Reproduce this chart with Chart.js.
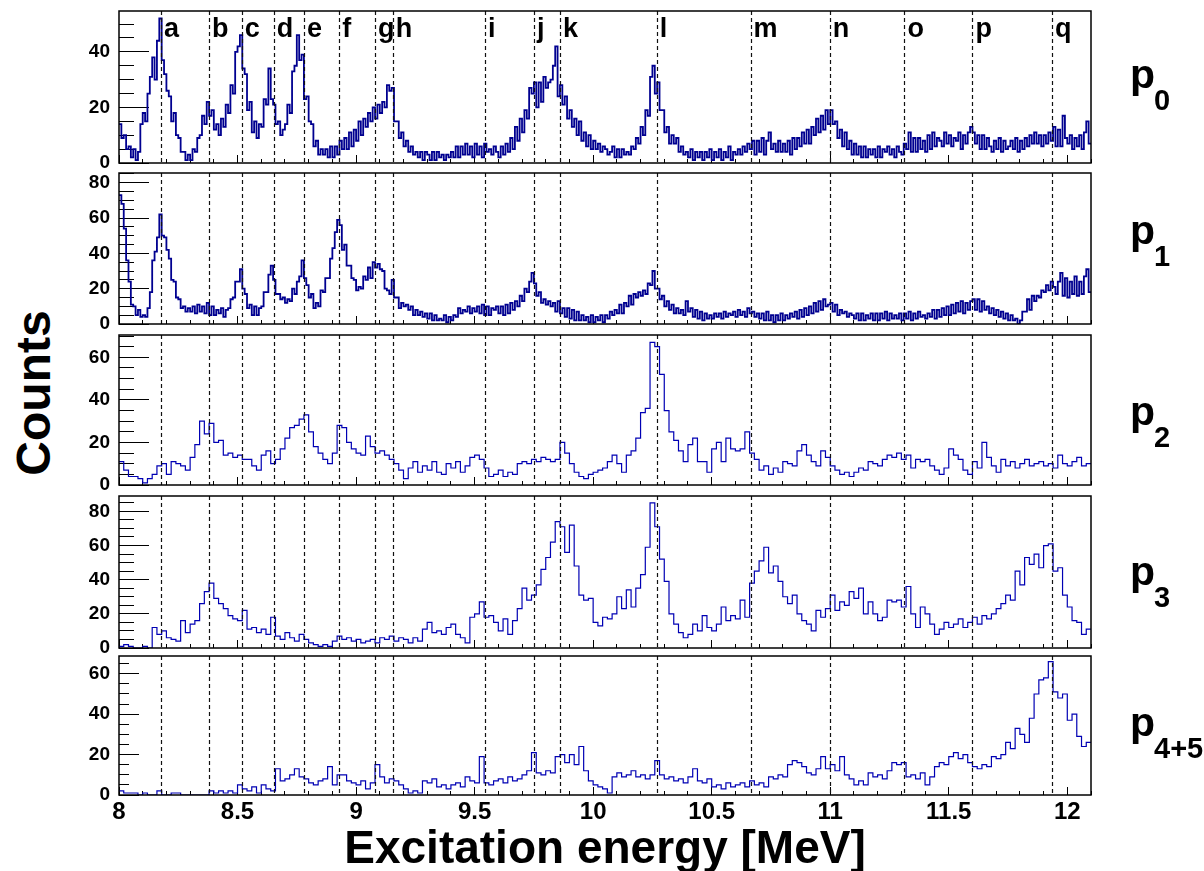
<!DOCTYPE html>
<html>
<head>
<meta charset="utf-8">
<script src="https://cdn.jsdelivr.net/npm/chart.js@4.4.0/dist/chart.umd.min.js"></script>
<style>
  body { margin: 0; background: #fff; width: 1204px; height: 871px; overflow: hidden; position: relative; }
  canvas { position: absolute; left: 0; }
  #ytitle {
    position: absolute; left: -120px; top: 369px; width: 300px; height: 48px;
    line-height: 48px; text-align: center; transform: rotate(-90deg);
    font: bold 48px "Liberation Sans", Arial, sans-serif; color: #000;
  }
</style>
</head>
<body>
<div id="ytitle">Counts</div>
<script>
const energyMin = 8;
const energyMax = 12.1;
const fineBin = 0.01;
const coarseBin = 0.02;

const xTickLabels = [8, 8.5, 9, 9.5, 10, 10.5, 11, 11.5, 12];
const yTickLabels = [0, 20, 40, 60, 80];

const levelLabels = ['a','b','c','d','e','f','g','h','i','j','k','l','m','n','o','p','q'];
const levelEnergies = [8.177, 8.380, 8.518, 8.653, 8.780, 8.929, 9.080, 9.155, 9.544,
                       9.751, 9.860, 10.268, 10.664, 10.998, 11.313, 11.600, 11.935];

const channelNames = ['0', '1', '2', '3', '4+5'];

// p0, 0.01 MeV bins, one row per 0.1 MeV
const p0Counts = [
  14,9,10,5,6,2,5,1,4,14,
  18,15,25,31,38,30,44,52,37,32,
  26,24,15,18,10,9,4,4,1,3,
  1,5,4,9,10,17,14,22,17,19,
  12,14,10,16,13,21,18,28,25,40,
  42,46,34,32,19,22,11,15,9,14,
  13,23,21,34,23,21,14,15,10,12,
  14,21,18,33,35,46,37,39,23,24,
  15,14,6,8,3,5,3,5,2,6,
  2,6,3,8,5,9,5,11,6,12,
  8,15,10,16,13,18,15,20,16,21,
  18,22,20,28,26,27,15,15,9,11,
  6,8,4,6,3,4,2,4,1,4,
  3,1,4,1,4,2,3,1,3,2,
  4,2,6,2,6,3,7,3,6,2,
  7,3,6,2,7,4,5,3,6,4,
  2,6,3,7,4,9,5,13,8,16,
  11,19,16,27,25,29,20,29,22,31,
  27,29,30,35,42,24,28,21,24,16,
  19,13,16,10,15,8,11,6,10,5,
  8,5,7,4,6,5,3,4,6,2,
  5,2,5,3,4,3,6,5,9,7,
  13,10,19,17,31,35,25,29,19,19,
  11,13,7,10,7,9,4,6,3,4,
  2,5,1,4,2,4,1,4,2,5,
  1,4,2,5,1,4,2,6,1,4,
  3,5,3,6,4,7,5,8,3,8,
  4,9,3,8,11,5,7,4,8,4,
  7,4,8,3,9,5,9,6,11,7,
  12,7,13,10,16,11,17,12,19,14,
  19,14,15,9,12,6,11,5,8,3,
  7,3,6,2,6,2,5,3,5,2,
  6,2,5,4,6,3,5,2,6,4,
  3,7,5,11,4,9,4,9,5,8,
  4,10,5,11,6,9,8,6,11,7,
  10,6,9,8,11,5,10,7,11,13,
  11,7,10,5,10,5,9,6,4,8,
  5,9,4,8,5,6,8,5,9,4,
  8,5,9,6,10,7,11,7,10,6,
  10,7,11,8,13,6,12,6,17,9,
  7,10,5,9,6,10,5,11,15,7
];

// p1, 0.01 MeV bins
const p1Counts = [
  73,68,54,36,24,11,10,5,8,4,
  5,4,9,18,36,41,49,62,50,49,
  42,37,25,24,15,14,9,10,7,9,
  7,10,6,11,7,10,6,12,5,10,
  5,8,6,9,4,8,9,14,15,24,
  24,31,20,17,9,11,5,10,5,9,
  10,18,18,28,33,25,17,17,14,15,
  12,14,13,20,17,24,27,36,26,22,
  15,17,9,12,10,19,18,26,26,37,
  43,52,59,56,42,45,33,33,26,25,
  19,21,20,27,25,32,26,35,32,34,
  31,30,20,19,17,25,15,15,9,12,
  10,11,8,10,5,8,5,7,4,6,
  3,6,2,5,2,3,2,5,1,4,
  2,5,4,9,6,8,7,10,6,9,
  7,10,6,11,5,10,5,9,8,10,
  6,10,5,11,6,12,8,13,10,16,
  13,20,18,24,29,23,16,18,12,14,
  11,13,10,12,7,13,6,9,4,9,
  3,8,2,7,2,5,2,4,1,5,
  1,4,2,5,1,5,3,7,5,8,
  6,11,6,12,10,16,11,17,15,18,
  16,19,17,23,22,30,20,20,14,16,
  10,13,8,11,6,9,6,8,5,13,
  7,9,4,8,3,7,2,6,3,5,
  3,6,4,6,3,7,4,6,5,7,
  4,8,5,7,4,9,6,7,4,6,
  3,6,2,7,2,5,1,5,2,6,
  2,5,3,6,4,7,3,8,4,9,
  5,10,6,12,7,13,8,14,10,11,
  12,7,11,5,8,6,7,4,6,5,
  3,6,2,6,2,5,3,6,2,6,
  2,6,3,7,2,6,3,5,3,6,
  2,6,3,7,2,6,3,7,4,5,
  3,6,4,8,3,8,4,9,5,10,
  5,11,6,12,7,13,6,12,8,13,
  14,8,14,7,13,8,10,6,9,5,
  8,4,7,3,6,2,5,2,3,0,
  2,7,7,14,8,16,13,16,15,19,
  18,22,19,24,21,17,24,29,16,26,
  15,24,17,27,16,24,17,27,31,18
];

// p2, 0.02 MeV bins, one row per 0.2 MeV
const p2Counts = [
  11,7,4,4,3,1,3,5,9,10,
  5,11,10,9,7,13,19,30,24,29,
  20,21,14,15,13,14,12,12,9,7,
  14,16,10,12,17,22,27,28,31,33,
  25,18,15,12,10,15,28,27,20,17,
  15,14,23,18,15,16,14,12,10,7,
  3,8,11,6,9,7,11,6,5,10,
  8,11,6,9,13,14,12,8,4,5,
  7,4,6,5,10,11,10,12,11,13,
  12,11,12,20,15,10,6,4,3,5,
  6,7,8,11,14,10,6,14,16,22,
  34,36,67,65,52,35,25,21,16,11,
  19,22,11,11,6,17,20,11,22,17,
  16,17,25,15,12,7,9,5,8,6,
  11,10,9,16,19,14,11,9,16,13,
  9,7,5,6,4,6,8,7,11,10,
  9,12,14,13,15,12,14,8,12,11,
  12,9,7,5,8,17,14,12,7,5,
  11,8,20,13,9,6,12,9,11,8,
  10,12,9,10,11,9,10,8,14,10,
  9,11,13,9,10
];

// p3, 0.02 MeV bins
const p3Counts = [
  1,2,1,0,0,1,0,12,8,10,
  6,5,4,16,9,14,16,26,33,38,
  29,26,23,19,17,16,22,11,12,9,
  11,8,18,7,5,9,6,4,8,5,
  3,2,1,2,1,4,7,5,6,4,
  5,3,4,5,3,6,5,7,4,6,
  5,3,6,4,11,15,9,10,8,12,
  14,8,6,3,18,20,27,18,19,15,
  10,17,8,16,23,35,28,31,37,46,
  53,62,74,71,56,72,48,31,28,29,
  15,13,18,17,20,30,23,34,24,35,
  43,59,85,71,52,39,20,14,9,6,
  8,14,10,19,12,10,14,24,16,19,
  17,28,18,38,45,51,59,44,48,39,
  30,26,31,20,16,14,10,22,18,23,
  31,22,27,25,33,29,35,20,27,20,
  16,18,28,27,28,24,36,20,12,24,
  20,14,8,11,15,12,14,17,12,15,
  18,14,19,17,20,23,26,31,28,45,
  37,53,49,55,47,60,61,45,47,31,
  24,16,15,8,11
];

// p4+5, 0.02 MeV bins
const p45Counts = [
  2,1,1,1,0,1,0,0,2,0,
  0,1,1,0,0,0,0,0,0,2,
  1,2,1,2,1,5,3,2,4,1,
  5,3,2,13,7,8,10,13,9,8,
  6,5,7,8,14,5,10,10,7,6,
  5,7,3,6,15,9,6,8,7,5,
  3,1,2,1,7,6,8,4,5,3,
  5,6,4,9,7,6,19,6,5,7,
  8,6,9,7,8,10,12,21,11,10,
  12,11,19,20,16,20,15,24,12,7,
  5,4,3,1,9,11,9,10,12,9,
  10,8,10,17,10,8,9,7,8,6,
  9,13,7,6,8,4,5,3,6,4,
  5,6,4,7,5,6,4,9,8,10,
  9,15,17,16,14,11,10,13,19,13,
  15,12,19,10,8,5,7,5,11,9,
  10,8,12,16,15,16,9,10,8,11,
  5,9,14,16,15,19,21,18,20,16,
  14,13,15,14,19,18,20,26,23,33,
  30,26,38,50,57,58,66,51,48,50,
  37,40,29,24,26
];

const seriesCounts = [p0Counts, p1Counts, p2Counts, p3Counts, p45Counts];
const seriesBins = [fineBin, fineBin, coarseBin, coarseBin, coarseBin];
const yMax = [54.7, 85.5, 70.5, 89, 68.8];

// page layout (pixels) and styles
const frameLeft = 119, frameRight = 1091;
const panelTop = [11, 173, 335, 496, 656];
const panelBottom = [163, 324, 485, 648, 795];
const nameBaseline = [77, 71, 90, 89, 80];
const lineColor = ['#000090', '#000090', '#0000b4', '#0000b4', '#0000b4'];
const lineWidth = [1.8, 1.8, 1.2, 1.2, 1.2];
const fontFamily = '"Liberation Sans", Arial, Helvetica, sans-serif';

function histPoints(counts, width) {
  const pts = counts.map((c, i) => ({ x: energyMin + i * width, y: c }));
  pts.push({ x: energyMin + counts.length * width, y: counts[counts.length - 1] });
  return pts;
}

function setTicks(values) {
  return function (scale) {
    scale.ticks = values.filter(v => v >= scale.min - 1e-9 && v <= scale.max + 1e-9).map(v => ({ value: v }));
  };
}

function stepValues(lo, hi, step) {
  const out = [];
  for (let i = 0; lo + i * step <= hi + 1e-9; i++) out.push(Math.round((lo + i * step) * 1000) / 1000);
  return out;
}

function fixSize(prop, size) {
  return function (s) {
    s[prop] = size;
    s.paddingTop = 0; s.paddingBottom = 0; s.paddingLeft = 0; s.paddingRight = 0;
  };
}

const framePlugin = {
  id: 'frame',
  afterDatasetsDraw(chart, args, opts) {
    const { ctx, chartArea: a, scales } = chart;
    ctx.save();
    ctx.strokeStyle = '#111';
    ctx.lineWidth = 1.2;
    ctx.setLineDash([4, 3]);
    levelEnergies.forEach(e => {
      const x = Math.round(scales.x.getPixelForValue(e)) + 0.5;
      ctx.beginPath();
      ctx.moveTo(x, a.top);
      ctx.lineTo(x, a.bottom);
      ctx.stroke();
    });
    ctx.setLineDash([]);
    if (opts.letters) {
      ctx.fillStyle = '#000';
      ctx.font = 'bold 27px ' + fontFamily;
      ctx.textBaseline = 'alphabetic';
      ctx.textAlign = 'left';
      levelEnergies.forEach((e, i) => {
        ctx.fillText(levelLabels[i], scales.x.getPixelForValue(e) + 3, a.top + 26);
      });
    }
    ctx.strokeStyle = '#000';
    ctx.lineWidth = 1.5;
    ctx.strokeRect(a.left, a.top, a.right - a.left, a.bottom - a.top);
    ctx.fillStyle = '#000';
    ctx.textAlign = 'left';
    ctx.textBaseline = 'alphabetic';
    ctx.font = 'bold 41px ' + fontFamily;
    ctx.fillText('p', 1130, a.top + opts.nameY);
    ctx.font = 'bold 29px ' + fontFamily;
    ctx.fillText(opts.sub, 1154, a.top + opts.nameY + 22);
    ctx.restore();
  }
};

function makePanel(k) {
  const last = k === seriesCounts.length - 1;
  const pad = 12;
  const top = panelTop[k] - pad;
  const bottom = last ? 871 : panelBottom[k] + pad;
  const canvas = document.createElement('canvas');
  canvas.width = 1204;
  canvas.height = bottom - top;
  canvas.style.top = top + 'px';
  document.body.appendChild(canvas);

  const xAxisHeight = last ? 871 - panelBottom[k] : 0;
  const yTick = last ? 20 : 30;

  new Chart(canvas, {
    type: 'line',
    data: {
      datasets: [{
        data: histPoints(seriesCounts[k], seriesBins[k]),
        xAxisID: 'x',
        yAxisID: 'y',
        stepped: true,
        borderColor: lineColor[k],
        borderWidth: lineWidth[k],
        pointRadius: 0,
        fill: false,
        tension: 0
      }]
    },
    options: {
      responsive: false,
      animation: false,
      events: [],
      layout: {
        autoPadding: false,
        padding: { top: pad, bottom: last ? 0 : pad, left: 0, right: 1204 - frameRight }
      },
      plugins: {
        legend: { display: false },
        tooltip: { enabled: false },
        frame: { letters: k === 0, nameY: nameBaseline[k], sub: channelNames[k] }
      },
      scales: {
        x: {
          type: 'linear', position: 'bottom', min: energyMin, max: energyMax, weight: 1,
          border: { display: false },
          grid: { drawOnChartArea: false, tickLength: -8, color: '#000', lineWidth: 1 },
          ticks: {
            display: last, autoSkip: false, maxRotation: 0, padding: 11,
            color: '#000', font: { family: fontFamily, size: 24, weight: 'bold' },
            callback: v => String(v)
          },
          title: {
            display: last, text: 'Excitation energy [MeV]', color: '#000',
            padding: { top: 0, bottom: 0 },
            font: { family: fontFamily, size: 46, weight: 'bold', lineHeight: 0.9 }
          },
          afterBuildTicks: setTicks(xTickLabels),
          afterFit: fixSize('height', xAxisHeight)
        },
        xMinor: {
          type: 'linear', position: 'bottom', min: energyMin, max: energyMax, weight: 0,
          border: { display: false },
          grid: { drawOnChartArea: false, tickLength: -4, color: '#000', lineWidth: 1 },
          ticks: { display: false, autoSkip: false },
          afterBuildTicks: setTicks(stepValues(energyMin, energyMax, 0.1)),
          afterFit: fixSize('height', 0)
        },
        y: {
          type: 'linear', position: 'left', min: 0, max: yMax[k], weight: 1,
          border: { display: false },
          grid: { drawOnChartArea: false, tickLength: -yTick, color: '#000', lineWidth: 1 },
          ticks: {
            autoSkip: false, padding: yTick + 9, color: '#000',
            font: { family: fontFamily, size: 19, weight: 'bold' },
            callback: v => String(v)
          },
          afterBuildTicks: setTicks(yTickLabels),
          afterFit: fixSize('width', frameLeft)
        },
        yMinor: {
          type: 'linear', position: 'left', min: 0, max: yMax[k], weight: 0,
          border: { display: false },
          grid: { drawOnChartArea: false, tickLength: -Math.round(yTick / 2), color: '#000', lineWidth: 1 },
          ticks: { display: false, autoSkip: false },
          afterBuildTicks: setTicks(stepValues(0, 85, 5)),
          afterFit: fixSize('width', 0)
        }
      }
    },
    plugins: [framePlugin]
  });
}

for (let k = 0; k < seriesCounts.length; k++) makePanel(k);
</script>
</body>
</html>
